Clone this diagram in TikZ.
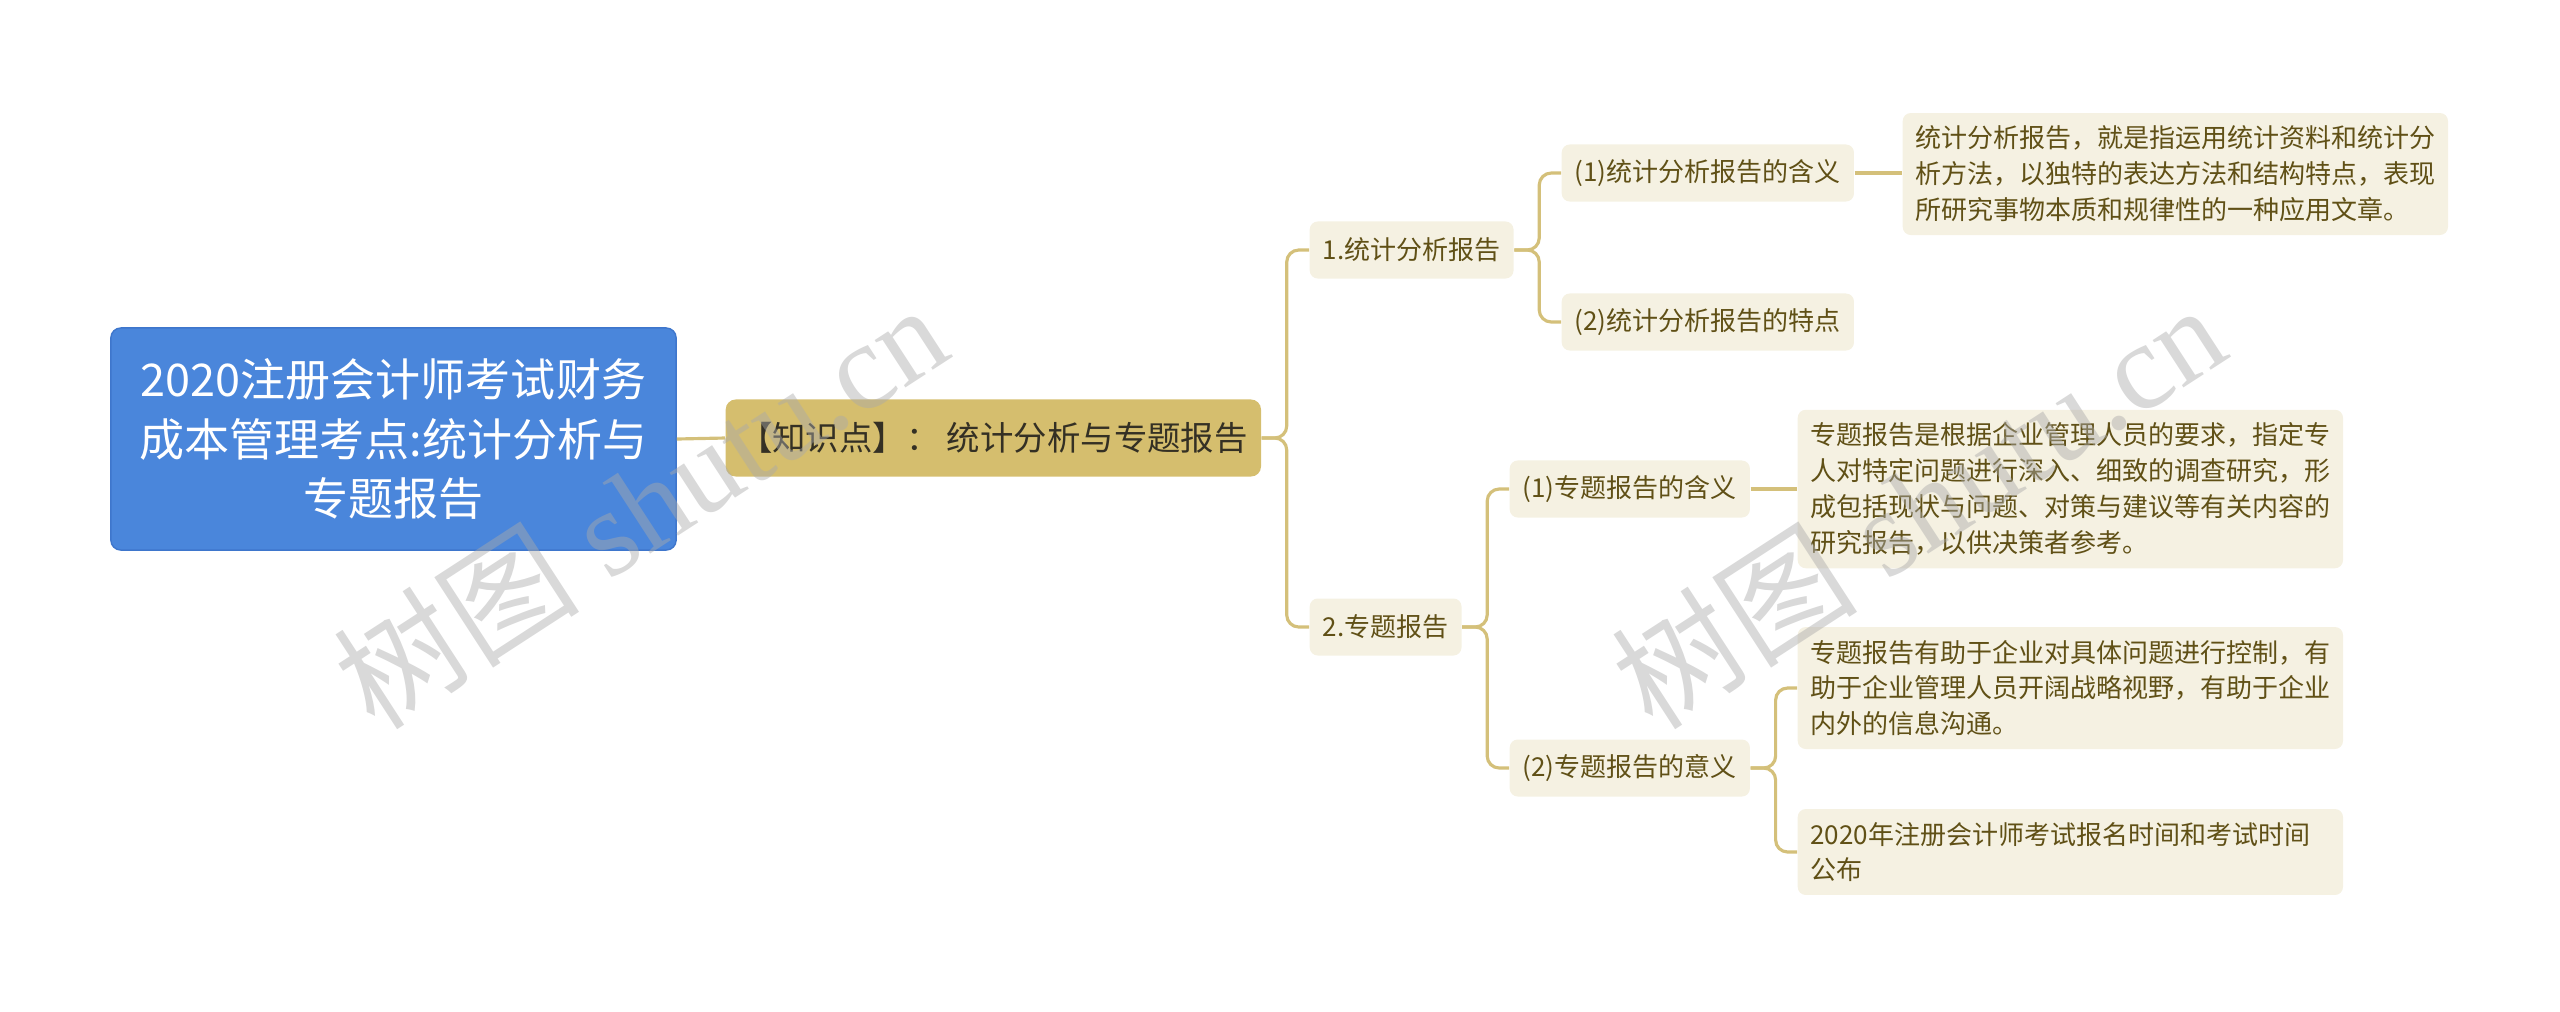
\documentclass[tikz,border=0pt]{standalone}
\usepackage{fontspec}
\setmainfont{Liberation Serif}
\newfontfamily\cjk{Noto Sans CJK SC}
\definecolor{rootblue}{RGB}{74,134,219}
\definecolor{rootedge}{RGB}{62,118,204}
\definecolor{knowgold}{RGB}{213,190,110}
\definecolor{linegold}{RGB}{212,192,122}
\definecolor{cream}{RGB}{245,241,226}
\definecolor{textolive}{RGB}{96,80,22}
\definecolor{textdark}{RGB}{52,48,36}
\definecolor{wmgray}{RGB}{170,170,170}

\begin{document}
\begin{tikzpicture}[x=0.01cm, y=-0.01cm,
        link/.style={draw=linegold, line width=0.9pt, rounded corners=0.12cm},
        rootbox/.style={fill=rootblue, draw=rootedge, line width=0.4pt, rounded corners=0.1cm, text=white,
                font=\cjk\fontsize{12.8}{17}\selectfont, align=center, minimum width=5.65cm, minimum height=2.22cm},
        knowbox/.style={fill=knowgold, rounded corners=0.1cm, text=textdark, inner xsep=0.08cm,
                font=\cjk\fontsize{9.5}{12}\selectfont, minimum width=5.35cm, minimum height=0.77cm},
        midbox/.style={fill=cream, rounded corners=0.08cm, text=textolive,
                font=\cjk\fontsize{7.4}{10}\selectfont, inner xsep=0.13cm, minimum height=0.57cm},
        leafbox/.style={midbox, text width=5.2cm, align=left, inner xsep=0.125cm, inner ysep=0.13cm,
                font=\cjk\fontsize{7.4}{10.2}\selectfont},
        wmtext/.style={text=wmgray, opacity=0.45, font=\fontsize{35}{35}\selectfont, rotate=33}]
        \useasboundingbox (0,0) rectangle (2560,1011);
        \node[rootbox] (root) at (393.5,439) {2020注册会计师考试财务\\成本管理考点:统计分析与\\专题报告};
        \node[knowbox, anchor=west] (know) at (725,438) {【知识点】： 统计分析与专题报告};
        \node[midbox, anchor=west] (n1) at (1309,250) {1.统计分析报告};
        \node[midbox, anchor=west] (n2) at (1309,627) {2.专题报告};
        \node[midbox, anchor=west] (a1) at (1561,173) {(1)统计分析报告的含义};
        \node[midbox, anchor=west] (a2) at (1561,322) {(2)统计分析报告的特点};
        \node[midbox, anchor=west] (b1) at (1509,489) {(1)专题报告的含义};
        \node[midbox, anchor=west] (b2) at (1509,768) {(2)专题报告的意义};
        \node[leafbox, anchor=west] (l1) at (1902,174) {统计分析报告，就是指运用统计资料和统计分\\析方法，以独特的表达方法和结构特点，表现\\所研究事物本质和规律性的一种应用文章。};
        \node[leafbox, anchor=west] (l2) at (1797,489) {专题报告是根据企业管理人员的要求，指定专\\人对特定问题进行深入、细致的调查研究，形\\成包括现状与问题、对策与建议等有关内容的\\研究报告，以供决策者参考。};
        \node[leafbox, anchor=west] (l3) at (1797,688) {专题报告有助于企业对具体问题进行控制，有\\助于企业管理人员开阔战略视野，有助于企业\\内外的信息沟通。};
        \node[leafbox, anchor=west] (l4) at (1797,852) {2020年注册会计师考试报名时间和考试时间\\公布};

        \draw[link] (root.east) -- (know.west);
        \draw[link] (know.east) -- ++(25,0) |- (n1.west);
        \draw[link] (know.east) -- ++(25,0) |- (n2.west);
        \draw[link] (n1.east) -- ++(25,0) |- (a1.west);
        \draw[link] (n1.east) -- ++(25,0) |- (a2.west);
        \draw[link] (a1.east) -- (a1.east -| l1.west);
        \draw[link] (n2.east) -- ++(25,0) |- (b1.west);
        \draw[link] (n2.east) -- ++(25,0) |- (b2.west);
        \draw[link] (b1.east) -- (b1.east -| l2.west);
        \draw[link] (b2.east) -- ++(25,0) |- (l3.west);
        \draw[link] (b2.east) -- ++(25,0) |- (l4.west);

        \node[wmtext] (wm1) at (640,505) {{\cjk 树图} shutu.cn};
        \node[wmtext] (wm2) at (1918,505) {{\cjk 树图} shutu.cn};
\end{tikzpicture}
\end{document}
